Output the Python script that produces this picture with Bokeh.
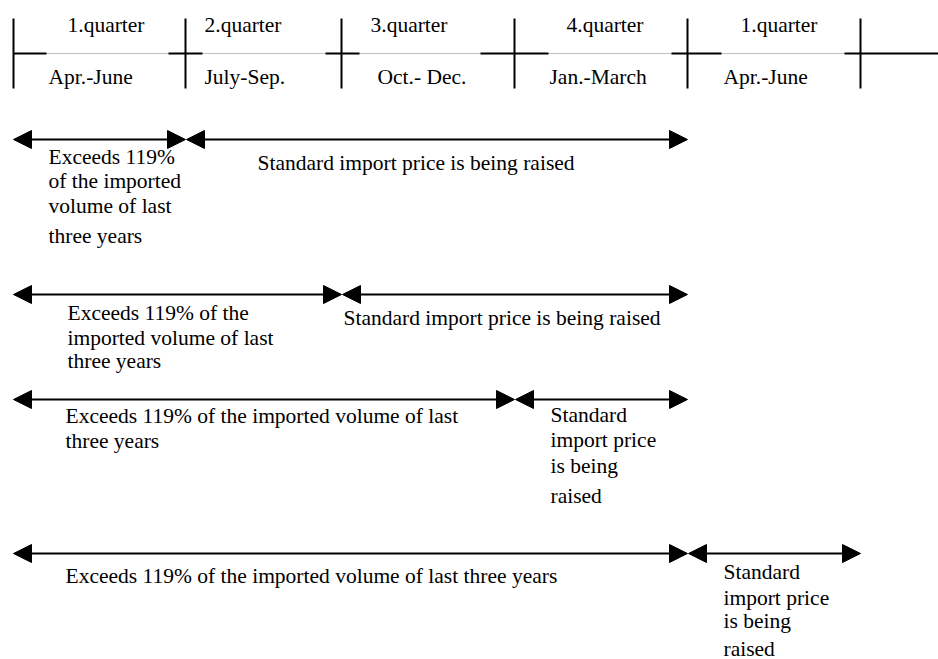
from bokeh.plotting import figure
from bokeh.models import Range1d, Arrow, NormalHead, ColumnDataSource
from bokeh.core.properties import value
from bokeh.embed import file_html
from bokeh.resources import INLINE

# ---------------- data ----------------
quarter_names = ["1.quarter", "2.quarter", "3.quarter", "4.quarter", "1.quarter"]
month_spans = ["Apr.-June", "July-Sep.", "Oct.- Dec.", "Jan.-March", "Apr.-June"]
quarter_edges = [13, 185, 341, 514, 687, 860]          # quarter boundaries on the time line
exceed_until = [1, 2, 3, 4]                            # edge index where "exceeds" period ends
raised_until = [4, 4, 4, 5]                            # edge index where "raised" period ends
exceed_text = [
    ["Exceeds 119%", "of the imported", "volume of last", "three years"],
    ["Exceeds 119% of the", "imported volume of last", "three years"],
    ["Exceeds 119% of the imported volume of last", "three years"],
    ["Exceeds 119% of the imported volume of last three years"],
]
raised_text = [
    ["Standard import price is being raised"],
    ["Standard import price is being raised"],
    ["Standard", "import price", "is being", "raised"],
    ["Standard", "import price", "is being", "raised"],
]

# ---------------- layout ----------------
W, H = 938, 659
FONT = value("Liberation Serif")
FS = "21.5px"
top_label_x = [67, 204, 370, 566, 740]
bottom_label_x = [48, 204, 377, 549, 723]
top_label_base = 24
bottom_label_base = 76
tick_top, tick_bottom, rule_y = 18, 88, 53
stub_left = [0, 17, 16, 34, 16, 16]
stub_right = [33, 17, 18, 34, 34, 80]
row_y = [139, 294, 399, 553]
exceed_x = [48, 67, 65, 65]
raised_x = [257, 343, 550, 723]
exceed_base = [[156, 180, 205, 235], [312, 337, 360], [415, 440], [575]]
raised_base = [[162], [317], [414, 439, 465, 495], [571, 597, 620, 648]]

p = figure(width=W, height=H, x_range=Range1d(0, W), y_range=Range1d(H, 0),
           output_backend="svg", toolbar_location=None, min_border=0,
           x_axis_location=None, y_axis_location=None)
p.grid.visible = False
p.outline_line_color = None
p.background_fill_color = "white"
p.border_fill_color = "white"

# ---- header time line ----
p.segment(x0=[quarter_edges[0]], y0=[rule_y], x1=[W], y1=[rule_y],
          line_color="#c0c0c0", line_width=1)
p.segment(x0=[e - l for e, l in zip(quarter_edges, stub_left)], y0=[rule_y] * 6,
          x1=[e + r for e, r in zip(quarter_edges, stub_right)], y1=[rule_y] * 6,
          line_color="black", line_width=2)
p.segment(x0=quarter_edges, y0=[tick_top] * 6, x1=quarter_edges, y1=[tick_bottom] * 6,
          line_color="black", line_width=2)
p.text(x=top_label_x, y=[top_label_base] * 5, text=quarter_names, text_font=FONT,
       text_font_size=FS, text_baseline="alphabetic", text_align="left", text_color="black")
p.text(x=bottom_label_x, y=[bottom_label_base] * 5, text=month_spans, text_font=FONT,
       text_font_size=FS, text_baseline="alphabetic", text_align="left", text_color="black")

# ---- period arrows ----
x0, x1, ys = [], [], []
for i in range(len(exceed_until)):
    x0.append(quarter_edges[0]); x1.append(quarter_edges[exceed_until[i]]); ys.append(row_y[i])
    x0.append(quarter_edges[exceed_until[i]] + 1); x1.append(quarter_edges[raised_until[i]]); ys.append(row_y[i])
src = ColumnDataSource(dict(x0=x0, x1=x1, y=ys))
head = dict(size=18, fill_color="black", line_color="black", line_width=1)
p.add_layout(Arrow(x_start="x0", y_start="y", x_end="x1", y_end="y", source=src,
                   start=NormalHead(**head), end=NormalHead(**head),
                   line_color="black", line_width=2))

# ---- period texts ----
tx, ty, tt = [], [], []
for i in range(len(exceed_text)):
    for line, b in zip(exceed_text[i], exceed_base[i]):
        tx.append(exceed_x[i]); ty.append(b); tt.append(line)
    for line, b in zip(raised_text[i], raised_base[i]):
        tx.append(raised_x[i]); ty.append(b); tt.append(line)
p.text(x=tx, y=ty, text=tt, text_font=FONT, text_font_size=FS,
       text_baseline="alphabetic", text_align="left", text_color="black")

open("out.html", "w").write(file_html(p, INLINE))
